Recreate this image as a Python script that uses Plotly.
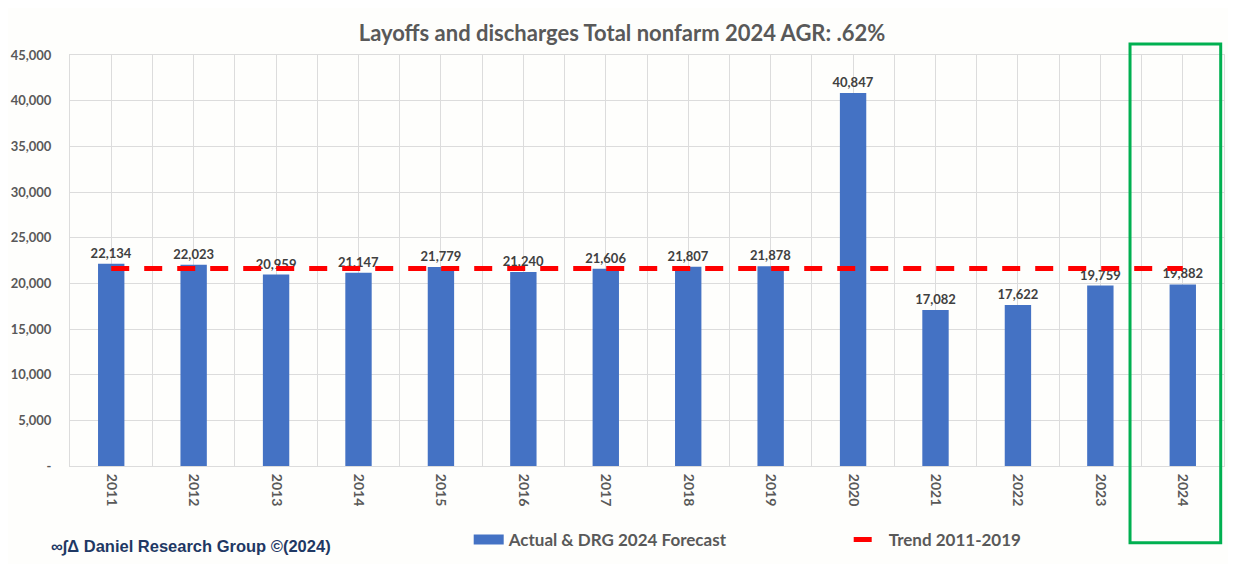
import plotly.graph_objects as go

# data
years = [2011, 2012, 2013, 2014, 2015, 2016, 2017, 2018, 2019, 2020, 2021, 2022, 2023, 2024]
layoffs = [22134, 22023, 20959, 21147, 21779, 21240, 21606, 21807, 21878, 40847, 17082, 17622, 19759, 19882]
# flat trend = mean of 2011-2019
trend = [21619] * len(years)
ytick_vals = [0, 5000, 10000, 15000, 20000, 25000, 30000, 35000, 40000, 45000]
ytick_text = ["-", "5,000", "10,000", "15,000", "20,000", "25,000", "30,000", "35,000", "40,000", "45,000"]

grey = "#595959"
grid = "#DCDCDC"
blue = "#4472C4"

fig = go.Figure()

fig.add_trace(go.Bar(
    x=years, y=layoffs,
    name="Actual & DRG 2024 Forecast",
    showlegend=False,
    marker=dict(color=blue, line=dict(width=0)),
    width=0.32,
    text=[f"{v:,}" for v in layoffs],
    textposition="outside",
    constraintext="none",
    textfont=dict(family="Lato", size=13, color="#404040", weight="bold"),
    cliponaxis=False,
))

# legend proxy so the bar key is a wide Excel-style swatch
fig.add_trace(go.Scatter(
    x=[None], y=[None], mode="lines",
    name="Actual & DRG 2024 Forecast",
    line=dict(color=blue, width=10),
))

fig.add_trace(go.Scatter(
    x=years, y=trend,
    name="Trend 2011-2019",
    mode="lines",
    line=dict(color="#FF0000", width=5, dash="18px,15px"),
))

# green highlight box round the forecast year
fig.add_shape(type="rect", xref="x", yref="paper",
              x0=2023.36, x1=2024.46, y0=-0.187, y1=1.027,
              line=dict(color="#00B050", width=3))

fig.add_annotation(
    text="∞∫Δ Daniel Research Group ©(2024)",
    xref="paper", yref="paper", x=-0.018, y=-0.197,
    xanchor="left", yanchor="middle", showarrow=False,
    font=dict(family="Liberation Sans", size=16.5, color="#1F3864", weight="bold"),
)

# page body has an 8px margin, so the figure is sized to fit inside it
fig.update_layout(
    width=1228, height=556,
    margin=dict(l=62, r=12, t=47, b=98, autoexpand=False),
    paper_bgcolor="#FEFEFC",
    plot_bgcolor="#FEFEFC",
    title=dict(text="<b>Layoffs and discharges Total nonfarm 2024 AGR: .62%</b>",
               x=0.5, xanchor="center", y=0.955, yanchor="middle",
               font=dict(family="Lato", size=22, color=grey)),
    showlegend=True,
    legend=dict(orientation="h", x=0.3455, xanchor="left", y=-0.18, yanchor="middle",
                font=dict(family="Lato", size=17, color=grey, weight="bold"),
                entrywidth=335, entrywidthmode="pixels",
                bgcolor="rgba(0,0,0,0)"),
    bargap=0.5,
)

fig.update_xaxes(
    range=[2010.5, 2024.5],
    tickvals=years, ticktext=[str(y) for y in years],
    tickangle=90,
    tickfont=dict(family="Lato", size=14, color=grey, weight="bold"),
    ticklabelstandoff=4,
    automargin=False,
    showgrid=True, gridcolor=grid, gridwidth=1,
    minor=dict(tick0=2010.5, dtick=1, showgrid=True, gridcolor=grid, gridwidth=1),
    showline=True, linecolor=grid, mirror=True,
    ticks="", zeroline=False,
)

fig.update_yaxes(
    range=[0, 45000],
    tickvals=ytick_vals, ticktext=ytick_text,
    tickfont=dict(family="Lato", size=13, color=grey, weight="bold"),
    ticklabelstandoff=15,
    automargin=False,
    showgrid=True, gridcolor=grid, gridwidth=1,
    showline=True, linecolor=grid, mirror=True,
    ticks="", zeroline=False,
)

fig.write_html("out.html")
